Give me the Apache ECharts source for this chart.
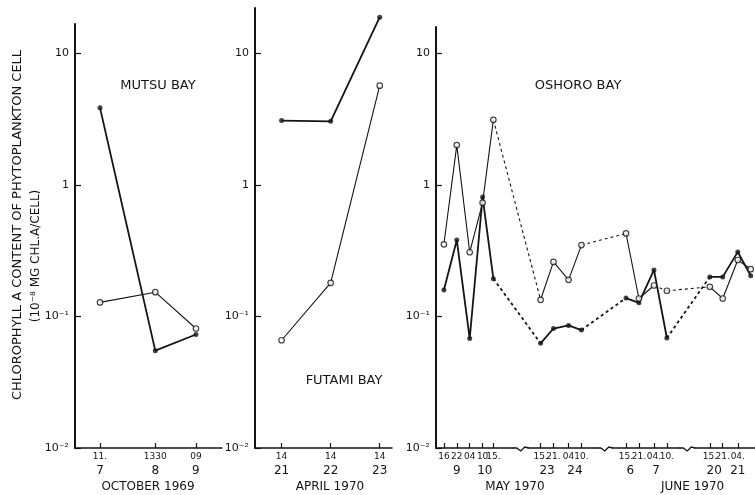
<!DOCTYPE html>
<html>
<head>
<meta charset="utf-8">
<script src="https://cdn.jsdelivr.net/npm/echarts@6/dist/echarts.min.js"></script>
<style>
  html, body { margin: 0; padding: 0; background: #fff; }
  #chart { width: 755px; height: 495px; }
</style>
</head>
<body>
<div id="chart"></div>
<script>
// log y axis ticks
const yTickValues = [0.01, 0.1, 1, 10];
const yTickLabels = ['10⁻²', '10⁻¹', '1', '10'];

// Mutsu Bay, October 1969
const mutsuTimes = ['1969-10-07 11:00', '1969-10-08 13:30', '1969-10-09 09:00'];
const mutsuHourLabels = ['11.', '1330', '09'];
const mutsuDayTimes = ['1969-10-07 11:00', '1969-10-08 13:30', '1969-10-09 09:00'];
const mutsuDayLabels = ['7', '8', '9'];
const mutsuFilled = [3.86, 0.055, 0.073];
const mutsuOpen = [0.128, 0.153, 0.081];

// Futami Bay, April 1970
const futamiTimes = ['1970-04-21 14:00', '1970-04-22 14:00', '1970-04-23 14:00'];
const futamiHourLabels = ['14', '14', '14'];
const futamiDayTimes = ['1970-04-21 14:00', '1970-04-22 14:00', '1970-04-23 14:00'];
const futamiDayLabels = ['21', '22', '23'];
const futamiFilled = [3.09, 3.05, 18.9];
const futamiOpen = [0.066, 0.18, 5.7];

// Oshoro Bay, May - June 1970
const oshoroTimes = [
  '1970-05-09 16:00', '1970-05-09 22:00', '1970-05-10 04:00', '1970-05-10 10:00', '1970-05-10 15:00',
  '1970-05-23 15:00', '1970-05-23 21:00', '1970-05-24 04:00', '1970-05-24 10:00',
  '1970-06-06 15:00', '1970-06-06 21:00', '1970-06-07 04:00', '1970-06-07 10:00',
  '1970-06-20 15:00', '1970-06-20 21:00', '1970-06-21 04:00', '1970-06-21 10:00'
];
const oshoroHourLabels = ['16', '22', '04', '10', '15.', '15.', '21.', '04', '10.',
  '15.', '21.', '04.', '10.', '15.', '21.', '04.', '10.'];
const oshoroDayTimes = ['1970-05-09 22:00', '1970-05-10 11:00', '1970-05-23 18:00', '1970-05-24 07:00',
  '1970-06-06 17:00', '1970-06-07 05:00', '1970-06-20 17:00', '1970-06-21 04:00'];
const oshoroDayLabels = ['9', '10', '23', '24', '6', '7', '20', '21'];
const oshoroFilled = [0.159, 0.381, 0.068, 0.81, 0.194, 0.0625, 0.081, 0.0855, 0.0788,
  0.138, 0.127, 0.226, 0.0686, 0.2, 0.2, 0.31, 0.204];
const oshoroOpen = [0.354, 2.01, 0.308, 0.734, 3.13, 0.134, 0.26, 0.19, 0.349,
  0.428, 0.137, 0.172, 0.157, 0.168, 0.137, 0.269, 0.229];
// segment i -> i+1 drawn dashed
const oshoroFilledDashed = [4, 8, 12];
const oshoroOpenDashed = [4, 8, 11, 12];
const oshoroBreaks = [
  ['1970-05-11 01:30', '1970-05-23 08:00', '3%'],
  ['1970-05-24 19:00', '1970-06-06 07:00', '2.5%'],
  ['1970-06-07 18:00', '1970-06-20 06:00', '2%']
];

// month labels
const monthLabels = [['1969-10-08 10:00', 'OCTOBER 1969'], ['1970-04-22 13:40', 'APRIL 1970'],
  ['1970-05-11 01:00', 'MAY 1970'], ['1970-06-20 07:00', 'JUNE 1970']];

const yTitle = 'CHLOROPHYLL A CONTENT OF PHYTOPLANKTON CELL';
const yUnit = '(10⁻⁸ MG CHL.A/CELL)';

function toH(s) {
  const [d, t] = s.split(' ');
  const [y, m, dd] = d.split('-').map(Number);
  const [hh, mm] = t.split(':').map(Number);
  return Date.UTC(y, m - 1, dd, hh, mm) / 3600000;
}

const FONT = 'DejaVu Sans';
const INK = '#141414';

const panels = [
  { name: 'MUTSU BAY', grid: { left: 75, top: 24, width: 147, height: 424 }, yMax: 16.75,
    xMin: '1969-10-06 23:00', xMax: '1969-10-09 21:30',
    times: mutsuTimes, hours: mutsuHourLabels, dayTimes: mutsuDayTimes, days: mutsuDayLabels,
    filled: mutsuFilled, open: mutsuOpen, filledDashed: [], openDashed: [], breaks: [],
    months: [monthLabels[0]], label: [158, 86] },
  { name: 'FUTAMI BAY', grid: { left: 255, top: 8, width: 137, height: 440 }, yMax: 22.2,
    xMin: '1970-04-21 01:00', xMax: '1970-04-23 20:00',
    times: futamiTimes, hours: futamiHourLabels, dayTimes: futamiDayTimes, days: futamiDayLabels,
    filled: futamiFilled, open: futamiOpen, filledDashed: [], openDashed: [], breaks: [],
    months: [monthLabels[1]], label: [344, 381] },
  { name: 'OSHORO BAY', grid: { left: 436, top: 27, width: 319, height: 421 }, yMax: 15.9,
    xMin: '1970-05-09 12:20', xMax: '1970-06-21 12:00',
    times: oshoroTimes, hours: oshoroHourLabels, dayTimes: oshoroDayTimes, days: oshoroDayLabels,
    filled: oshoroFilled, open: oshoroOpen, filledDashed: oshoroFilledDashed, openDashed: oshoroOpenDashed,
    breaks: oshoroBreaks, months: [monthLabels[2], monthLabels[3]], label: [578, 86], lastRight: true }
];

function nearestLabel(xs, labels, v) {
  let best = 0;
  for (let i = 1; i < xs.length; i++) {
    if (Math.abs(xs[i] - v) < Math.abs(xs[best] - v)) best = i;
  }
  return labels[best];
}

const grids = [], xAxes = [], yAxes = [], series = [];

panels.forEach((p, pi) => {
  grids.push(Object.assign({ containLabel: false }, p.grid));
  const brks = p.breaks.map(b => ({ start: toH(b[0]), end: toH(b[1]), gap: b[2] }));
  const base = {
    type: 'value', gridIndex: pi, position: 'bottom',
    min: toH(p.xMin), max: toH(p.xMax),
    breaks: brks, breakArea: { show: false },
    splitLine: { show: false }
  };
  const hx = p.times.map(toH);
  const dx = p.dayTimes.map(toH);
  const mx = p.months.map(m => toH(m[0]));
  // hour ticks
  const hourLabel = { show: true, customValues: hx, margin: 4, fontSize: 9, fontFamily: FONT, color: INK,
    hideOverlap: false, formatter: v => nearestLabel(hx, p.hours, v) };
  if (p.lastRight) hourLabel.alignMaxLabel = 'right';
  xAxes.push(Object.assign({}, base, {
    axisLine: { show: true, lineStyle: { color: INK, width: 1.5 } },
    axisTick: { show: true, inside: true, length: 5, lineStyle: { color: INK, width: 1.2 }, customValues: hx },
    axisLabel: hourLabel
  }));
  // day row
  xAxes.push(Object.assign({}, base, {
    axisLine: { show: false }, axisTick: { show: false },
    axisLabel: { show: true, customValues: dx, margin: 17, fontSize: 12, fontFamily: FONT, color: INK,
      hideOverlap: false, formatter: v => nearestLabel(dx, p.days, v) }
  }));
  // month row
  xAxes.push(Object.assign({}, base, {
    axisLine: { show: false }, axisTick: { show: false },
    axisLabel: { show: true, customValues: mx, margin: 33, fontSize: 12, fontFamily: FONT, color: INK,
      hideOverlap: false, formatter: v => nearestLabel(mx, p.months.map(m => m[1]), v) }
  }));
  yAxes.push({
    type: 'log', logBase: 10, gridIndex: pi, min: 0.01, max: p.yMax,
    axisLine: { show: true, lineStyle: { color: INK, width: 2 } },
    axisTick: { show: true, inside: true, length: 6, lineStyle: { color: INK, width: 1.2 }, customValues: yTickValues },
    axisLabel: { show: true, customValues: yTickValues, margin: 6, fontSize: 11, fontFamily: FONT, color: INK,
      formatter: v => yTickLabels[yTickValues.findIndex(t => Math.abs(Math.log10(t) - Math.log10(v)) < 0.01)] },
    splitLine: { show: false }
  });

  const mkLines = (vals, dashed, filled) => {
    let run = [0];
    const mk = (idx, dash) => ({
      type: 'line', xAxisIndex: pi * 3, yAxisIndex: pi, silent: true, symbol: 'none', z: 2,
      data: idx.map(i => [hx[i], vals[i]]),
      lineStyle: { color: INK, width: filled ? 1.8 : 1.1, type: dash ? [3, 3] : 'solid' }
    });
    for (let i = 0; i < vals.length - 1; i++) {
      if (dashed.includes(i)) {
        if (run.length > 1) series.push(mk(run, false));
        series.push(mk([i, i + 1], true));
        run = [i + 1];
      } else {
        run.push(i + 1);
      }
    }
    if (run.length > 1) series.push(mk(run, false));
  };
  mkLines(p.filled, p.filledDashed, true);
  mkLines(p.open, p.openDashed, false);

  series.push({
    type: 'scatter', xAxisIndex: pi * 3, yAxisIndex: pi, z: 5, silent: true,
    symbol: 'circle', symbolSize: 5,
    itemStyle: { color: INK },
    data: p.filled.map((v, i) => [hx[i], v])
  });
  series.push({
    type: 'scatter', xAxisIndex: pi * 3, yAxisIndex: pi, z: 6, silent: true,
    symbol: 'circle', symbolSize: 5.5,
    itemStyle: { color: '#fff', borderColor: INK, borderWidth: 1.2 },
    data: p.open.map((v, i) => [hx[i], v])
  });
});

const chart = echarts.init(document.getElementById('chart'), null, { renderer: 'canvas' });
chart.setOption({
  animation: false,
  backgroundColor: '#fff',
  grid: grids,
  xAxis: xAxes,
  yAxis: yAxes,
  series: series
});

// texts and zigzag break marks on the Oshoro axis
const graphics = [];
panels.forEach(p => {
  graphics.push({
    type: 'text', x: p.label[0], y: p.label[1], silent: true,
    style: { text: p.name, fontSize: 13, fontFamily: FONT, fill: INK, textAlign: 'center', textVerticalAlign: 'middle' }
  });
});
graphics.push({
  type: 'text', x: 18, y: 225, rotation: Math.PI / 2, silent: true,
  style: { text: yTitle, fontSize: 13, fontFamily: FONT, fill: INK, textAlign: 'center', textVerticalAlign: 'middle' }
});
graphics.push({
  type: 'text', x: 36, y: 256, rotation: Math.PI / 2, silent: true,
  style: { text: yUnit, fontSize: 12, fontFamily: FONT, fill: INK, textAlign: 'center', textVerticalAlign: 'middle' }
});
const axisY = 448;
oshoroBreaks.forEach(b => {
  const x0 = chart.convertToPixel({ xAxisIndex: 6 }, toH(b[0]));
  const x1 = chart.convertToPixel({ xAxisIndex: 6 }, toH(b[1]));
  const xm = (x0 + x1) / 2;
  graphics.push({
    type: 'rect', silent: true, z: 100,
    shape: { x: xm - 7, y: axisY - 2, width: 14, height: 4 },
    style: { fill: '#fff' }
  });
  graphics.push({
    type: 'polyline', silent: true, z: 101,
    shape: { points: [[xm - 8, axisY], [xm - 4, axisY], [xm, axisY + 3], [xm + 4, axisY - 1], [xm + 8, axisY]] },
    style: { stroke: INK, lineWidth: 1.3, fill: null }
  });
});
chart.setOption({ graphic: graphics });
</script>
</body>
</html>
